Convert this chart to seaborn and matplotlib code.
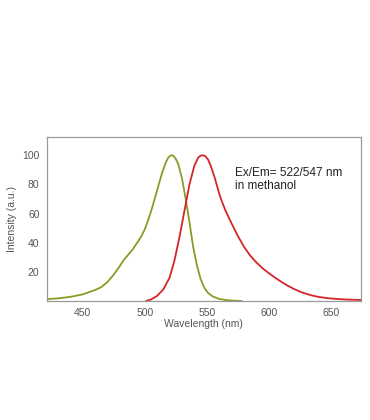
import numpy as np
import pandas as pd
import matplotlib
matplotlib.use("Agg")
import matplotlib.pyplot as plt
import seaborn as sns

# Excitation (green/olive) spectrum
ex_wl = [420, 430, 440, 450, 460, 465, 470, 475, 480, 483, 487, 490, 494, 497, 500,
         503, 506, 510, 514, 517, 519, 521, 522, 523, 525, 527, 530, 533, 536, 539,
         542, 545, 548, 551, 555, 560, 565, 570, 578]
ex_int = [1.2, 1.8, 2.8, 4.5, 7.5, 9.5, 13, 18, 24, 28, 32, 35, 40, 44, 49,
          56, 64, 76, 88, 95, 98.5, 99.8, 100, 99.6, 97.5, 94, 84, 70, 54, 37,
          24.5, 15, 9, 5.5, 3, 1.4, 0.7, 0.3, 0.0]

# Emission (red) spectrum
em_wl = [501, 505, 510, 515, 520, 524, 528, 532, 536, 540, 543, 545, 547, 549, 551,
         553, 556, 558, 560, 562, 565, 570, 575, 580, 585, 590, 595, 600, 605, 610,
         615, 620, 625, 630, 635, 640, 645, 650, 660, 670, 674]
em_int = [0.0, 1, 3.5, 8, 16, 28, 44, 62, 80, 93, 98.3, 99.7, 100, 99.2, 97,
          93, 85.5, 79.5, 73.5, 68.5, 62, 53, 44.5, 37, 31, 26.3, 22.3, 19, 15.9, 13.1,
          10.5, 8.3, 6.4, 4.9, 3.7, 2.8, 2.2, 1.7, 1.1, 0.8, 0.7]

x_ticks = [450, 500, 550, 600, 650]
y_ticks = [20, 40, 60, 80, 100]

sns.set_style("white")
plt.rcParams['font.family'] = ['Liberation Sans', 'DejaVu Sans']

fig = plt.figure(figsize=(3.7, 4.2), dpi=100)
ax = fig.add_axes([46.5 / 370, (420 - 301) / 420, (361 - 46.5) / 370, (301 - 137) / 420])

ex_df = pd.DataFrame({"wl": ex_wl, "val": ex_int})
em_df = pd.DataFrame({"wl": em_wl, "val": em_int})
sns.lineplot(data=ex_df, x="wl", y="val", ax=ax, color="#8c9a26", linewidth=1.3)
sns.lineplot(data=em_df, x="wl", y="val", ax=ax, color="#d42528", linewidth=1.3)

ax.set_xlim(421, 674)
ax.set_ylim(0, 112.5)
ax.set_xticks(x_ticks)
ax.set_yticks(y_ticks)
ax.tick_params(axis="both", labelsize=7.5, colors="#555555", length=3, width=0.8,
               direction="out", pad=2)
ax.tick_params(axis="x", length=0, pad=5)
for s in ax.spines.values():
    s.set_color("#9a9a9a")
    s.set_linewidth(0.9)
ax.set_xlabel("Wavelength (nm)", fontsize=7.5, color="#555555", labelpad=1)
ax.set_ylabel("Intensity (a.u.)", fontsize=7.5, color="#555555", labelpad=4)

ax.text(0.598, 0.82, "Ex/Em= 522/547 nm\nin methanol", transform=ax.transAxes,
        fontsize=8.5, color="#222222", va="top", ha="left", linespacing=1.2)

fig.savefig("out.png", dpi=100)
